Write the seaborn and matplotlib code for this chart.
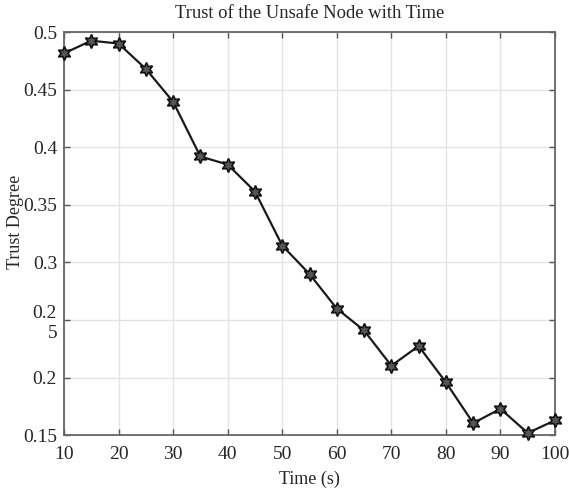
import matplotlib
matplotlib.use("Agg")
import matplotlib.pyplot as plt
import seaborn as sns
import pandas as pd

time_s = [10, 15, 20, 25, 30, 35, 40, 45, 50, 55, 60, 65, 70, 75, 80, 85, 90, 95, 100]
trust = [0.4815, 0.4925, 0.490, 0.468, 0.4395, 0.392, 0.385, 0.3616, 0.3147, 0.290,
         0.260, 0.241, 0.2104, 0.2275, 0.196, 0.1606, 0.173, 0.152, 0.163]
xticks = [10, 20, 30, 40, 50, 60, 70, 80, 90, 100]
yticks = [0.15, 0.2, 0.25, 0.3, 0.35, 0.4, 0.45, 0.5]
ytick_labels = ["0.15", "0.2", "0.2\n5", "0.3", "0.35", "0.4", "0.45", "0.5"]

sns.set_theme(style="white")
plt.rcParams['font.family'] = ['Liberation Serif', 'DejaVu Serif']

df = pd.DataFrame({"Time (s)": time_s, "Trust Degree": trust})

fig = plt.figure(figsize=(5.69, 4.93), dpi=100)
ax = fig.add_axes([0.1125, 0.117, 0.8629, 0.818])
sns.lineplot(data=df, x="Time (s)", y="Trust Degree", ax=ax, color="#1a1a1a",
             linewidth=1.6, marker=(6, 1, 0), markersize=10,
             markerfacecolor="#555555", markeredgecolor="#111111", markeredgewidth=1.2,
             clip_on=False, zorder=5)

ax.set_xlim(10, 100)
ax.set_ylim(0.15, 0.5)
ax.set_xticks(xticks)
ax.set_xticklabels([str(v) for v in xticks], fontsize=14)
ax.set_yticks(yticks)
ax.set_yticklabels(ytick_labels, fontsize=14)
ax.grid(True, color="#e3e3e3", linewidth=1.0)
ax.tick_params(axis="both", direction="in", length=4, width=1, color="#555555",
               top=True, right=True, bottom=True, left=True)
ax.tick_params(axis="x", pad=8)
ax.tick_params(axis="y", pad=5)
for s in ax.spines.values():
    s.set_color("#666666")
    s.set_linewidth(1.3)
ax.set_xlabel("Time (s)", fontsize=13, labelpad=5)
ax.set_ylabel("Trust Degree", fontsize=13)
ax.yaxis.set_label_coords(-0.081, 0.53)
ax.set_title("Trust of the Unsafe Node with Time", fontsize=13.4, pad=10)

fig.savefig("out.png", dpi=100)
